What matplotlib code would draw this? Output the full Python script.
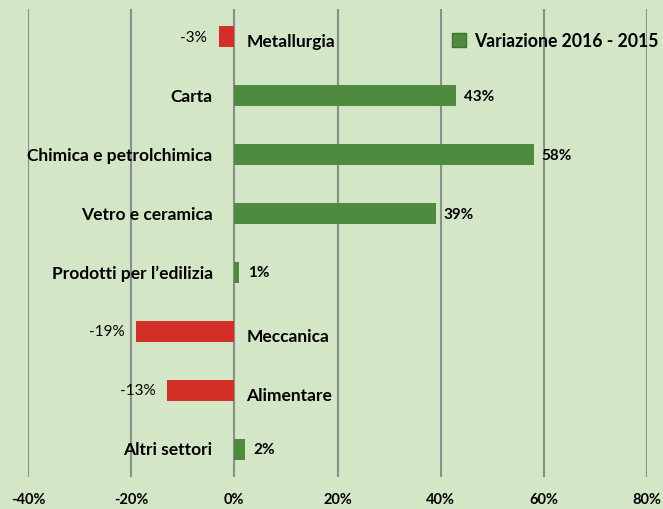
import matplotlib
matplotlib.use("Agg")
import matplotlib.pyplot as plt
from matplotlib.patches import Patch

categories = ["Metallurgia", "Carta", "Chimica e petrolchimica", "Vetro e ceramica",
              "Prodotti per l\u2019edilizia", "Meccanica", "Alimentare", "Altri settori"]
values = [-3, 43, 58, 39, 1, -19, -13, 2]
xticks = [-40, -20, 0, 20, 40, 60, 80]

bg = "#d3e6c6"
green = "#4f8b3e"
red = "#d42f27"
plt.rcParams['font.family'] = ['Lato', 'DejaVu Sans']

fig = plt.figure(figsize=(6.63, 5.10), dpi=100, facecolor=bg)
ax = fig.add_axes([28 / 663, 32 / 510, 619 / 663, 468 / 510])
ax.set_facecolor(bg)

ypos = list(range(len(categories)))
colors = [green if v >= 0 else red for v in values]
ax.barh(ypos, values, height=0.35, color=colors, zorder=3)

for y, v, name in zip(ypos, values, categories):
    if v >= 0:
        ax.text(-4.2, y, name, ha="right", va="center", fontsize=12.5, fontweight="bold", zorder=4)
        ax.text(v + 1.6, y, f"{v}%", ha="left", va="center", fontsize=11, fontweight="bold", zorder=4)
    else:
        ax.text(2.3, y + 0.08, name, ha="left", va="center", fontsize=12.5, fontweight="bold", zorder=4)
        ax.text(v - 2.3, y, f"{v}%", ha="right", va="center", fontsize=11, zorder=4)

ax.set_xlim(-40, 80)
ax.set_ylim(len(categories) - 0.53, -0.47)
ax.set_yticks([])
ax.set_xticks(xticks)
ax.set_xticklabels([f"{t}%" for t in xticks], fontsize=10.5, fontweight="bold")
ax.tick_params(axis="x", length=0, pad=11)
ax.grid(axis="x", color="#8a8f87", linewidth=1.5, zorder=0)
for s in ax.spines.values():
    s.set_visible(False)

handle = Patch(facecolor=green, edgecolor="#3f7330", linewidth=1)
ax.legend([handle], ["Variazione 2016 - 2015"], loc="upper right", frameon=False,
          handlelength=0.8, handleheight=0.8, handletextpad=0.5,
          bbox_to_anchor=(1.045, 0.985), prop={"weight": "bold", "size": 12.7})

fig.savefig("out.png", dpi=100, facecolor=bg)
